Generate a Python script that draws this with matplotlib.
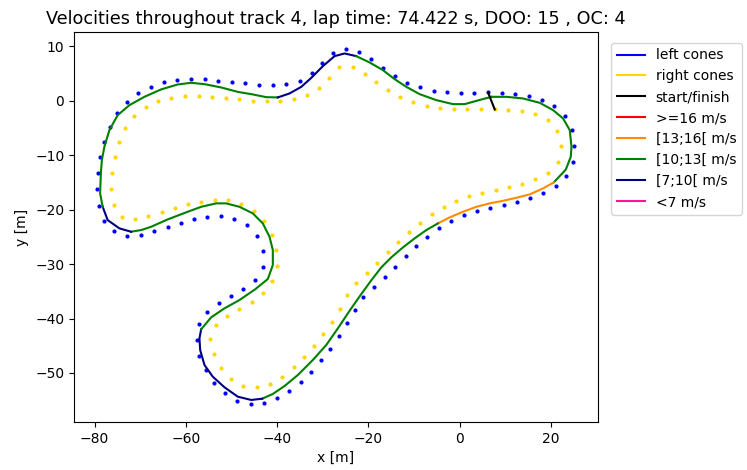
import matplotlib
matplotlib.use("Agg")
from matplotlib import pyplot as plt
from matplotlib.lines import Line2D

# cone positions [m]
left_x = [6.21, 9.21, 12.21, 15.13, 18.05, 20.77, 23.09, 24.63, 25.15, 24.78,
          23.31, 21.05, 18.36, 15.50, 12.57, 9.65, 6.73, 3.79, 0.94, -1.82,
          -4.54, -7.08, -9.50, -11.84, -14.10, -16.45, -18.79, -21.12, -22.87, -24.63,
          -26.38, -28.36, -30.42, -32.52, -34.87, -37.35, -40.07, -42.92, -45.83, -48.75,
          -51.47, -53.73, -55.55, -57.02, -57.61, -57.08, -55.26, -52.70, -50.07, -47.37,
          -44.89, -43.20, -43.20, -44.45, -46.64, -49.34, -52.26, -55.26, -58.18, -61.12,
          -63.97, -66.89, -69.80, -72.81, -75.66, -77.85, -78.95, -79.39, -79.23, -78.73,
          -77.85, -76.60, -75.00, -72.87, -70.39, -67.61, -64.76, -61.84, -58.84, -55.86,
          -52.85, -49.85, -46.93, -43.93, -41.01, -38.00, -35.09, -32.39, -30.20, -27.85,
          -25.00, -22.08, -19.36, -16.82, -14.25, -11.56, -8.71, -5.70, -2.70, 0.22,
          3.22]
left_y = [1.50, 1.43, 1.25, 0.83, 0.15, -1.01, -2.79, -5.36, -8.29, -11.23,
          -13.80, -15.69, -17.03, -17.89, -18.57, -19.12, -19.67, -20.28, -21.06, -22.11,
          -23.45, -24.99, -26.70, -28.53, -30.50, -32.39, -34.22, -36.06, -38.50, -40.88,
          -43.21, -45.54, -47.67, -49.76, -51.60, -53.25, -54.59, -55.45, -55.63, -55.08,
          -53.72, -51.78, -49.45, -46.83, -43.94, -41.06, -38.81, -37.16, -35.82, -34.53,
          -32.88, -30.55, -27.56, -24.92, -22.90, -21.69, -21.19, -21.32, -21.80, -22.48,
          -23.27, -24.00, -24.62, -24.81, -24.00, -22.06, -19.30, -16.29, -13.36, -10.42,
          -7.61, -4.92, -2.35, -0.22, 1.43, 2.53, 3.34, 3.76, 3.89, 3.89,
          3.63, 3.39, 3.16, 2.90, 2.79, 3.03, 3.63, 4.99, 6.88, 8.77,
          9.50, 8.84, 7.56, 6.02, 4.55, 3.27, 2.42, 1.80, 1.56, 1.43,
          1.43]

right_x = [7.68, 10.59, 13.60, 16.51, 19.30, 21.43, 22.21, 21.49, 19.30, 16.60,
           13.75, 10.81, 7.89, 4.98, 2.13, -0.72, -3.51, -6.14, -8.77, -11.12,
           -13.44, -15.79, -18.05, -20.39, -22.81, -24.63, -26.32, -28.07, -29.98, -32.02,
           -34.14, -36.40, -38.88, -41.60, -44.45, -47.37, -50.07, -52.19, -53.79, -54.67,
           -53.44, -50.88, -48.25, -45.61, -43.14, -41.07, -40.13, -40.20, -41.16, -42.83,
           -45.11, -47.81, -50.72, -53.66, -56.64, -59.50, -62.43, -65.29, -68.20, -71.12,
           -74.06, -75.81, -76.32, -76.16, -75.59, -74.56, -73.31, -71.34, -68.79, -66.01,
           -63.16, -60.15, -57.17, -54.23, -51.25, -48.31, -45.33, -42.32, -39.41, -36.40,
           -33.55, -30.92, -28.66, -26.38, -23.46, -20.83, -18.27, -15.64, -13.00, -10.24,
           -7.24, -4.32, -1.32, 1.69, 4.61]
right_y = [-1.61, -1.69, -1.93, -2.48, -3.58, -5.54, -8.35, -11.23, -13.25, -14.46,
           -15.27, -15.87, -16.42, -16.97, -17.58, -18.44, -19.60, -20.88, -22.42, -24.13,
           -25.96, -27.85, -29.76, -31.65, -33.49, -35.74, -38.20, -40.59, -42.84, -45.05,
           -47.06, -48.95, -50.68, -51.96, -52.62, -52.39, -51.05, -49.03, -46.51, -43.76,
           -41.14, -39.54, -38.31, -36.97, -35.27, -33.12, -30.37, -27.38, -24.62, -22.17,
           -20.28, -18.94, -18.31, -18.26, -18.57, -19.05, -19.78, -20.51, -21.25, -21.74,
           -21.43, -19.23, -16.29, -13.36, -10.42, -7.61, -4.99, -2.79, -1.14, -0.09,
           0.51, 0.88, 0.88, 0.70, 0.46, 0.22, -0.04, -0.15, -0.09, 0.22,
           1.01, 2.35, 4.18, 6.15, 6.15, 4.92, 3.39, 1.93, 0.64, -0.33,
           -1.01, -1.38, -1.56, -1.56, -1.56]

# driven path
path_x = [6.95, 10.24, 13.88, 17.54, 20.46, 22.65, 24.12, 24.50, 24.34, 23.25,
          20.61, 18.27, 15.35, 12.43, 9.50, 6.58, 3.66, 0.72, -2.19, -4.76,
          -7.30, -9.87, -12.43, -14.98, -17.17, -19.41, -21.71, -24.01, -26.69, -29.23,
          -32.17, -35.46, -38.38, -40.94, -43.27, -45.68, -48.62, -51.54, -54.10, -55.92,
          -56.86, -57.02, -56.64, -54.45, -51.54, -48.25, -44.74, -42.04, -40.94, -40.94,
          -41.67, -43.14, -45.33, -48.25, -51.16, -53.36, -56.64, -59.58, -63.97, -67.61,
          -69.80, -72.00, -74.56, -77.13, -78.22, -78.79, -78.62, -78.40, -77.85, -76.75,
          -74.93, -72.37, -69.08, -65.42, -61.78, -58.84, -55.92, -52.26, -48.62, -45.33,
          -42.39, -39.85, -37.28, -34.71, -32.52, -29.98, -27.41, -25.22, -22.65, -19.74,
          -16.82, -14.25, -11.69, -8.77, -5.11, -1.47, 1.10, 3.66, 6.95]
path_y = [0.70, 0.70, 0.40, -0.40, -1.74, -3.27, -5.41, -8.48, -10.31, -12.66,
          -15.01, -16.11, -17.21, -17.83, -18.39, -18.86, -19.49, -20.40, -21.43, -22.53,
          -23.76, -25.28, -26.94, -28.77, -30.61, -33.03, -35.69, -38.44, -41.80, -44.86,
          -47.61, -50.37, -52.39, -53.85, -54.72, -54.95, -54.35, -52.62, -50.68, -48.53,
          -45.78, -43.63, -41.98, -39.78, -38.13, -36.61, -34.59, -32.75, -30.18, -27.43,
          -24.99, -22.53, -20.70, -19.49, -18.86, -18.86, -19.49, -20.40, -21.80, -23.16,
          -23.76, -24.07, -23.45, -21.93, -19.49, -17.03, -13.36, -10.92, -8.48, -5.41,
          -2.66, -0.83, 0.70, 2.06, 2.97, 3.27, 3.03, 2.42, 1.61, 1.14,
          0.64, 0.59, 1.32, 2.53, 4.18, 6.33, 8.17, 8.66, 8.17, 7.01,
          5.60, 3.94, 2.53, 1.19, 0.09, -0.64, -0.64, -0.04, 0.70]

# index in path where each velocity band starts
band_start = [0, 10, 19, 34, 42, 61, 64, 81, 88]
band_name = ["[10;13[", "[13;16[", "[10;13[", "[7;10[", "[10;13[",
             "[7;10[", "[10;13[", "[7;10[", "[10;13["]

speed_labels = [">=16", "[13;16[", "[10;13[", "[7;10[", "<7"]
speed_colors = ["red", "darkorange", "green", "navy", "deeppink"]

start_x = [6.21, 7.68]
start_y = [1.50, -1.61]

fig = plt.figure(figsize=(7.47, 4.7), dpi=100)
ax = fig.add_axes([0.0991, 0.1021, 0.7014, 0.8298])

ax.scatter(left_x, left_y, s=9, c="blue", linewidths=0)
ax.scatter(right_x, right_y, s=9, c="gold", linewidths=0)

col = dict(zip(speed_labels, speed_colors))
ends = band_start[1:] + [len(path_x) - 1]
for b0, b1, name in zip(band_start, ends, band_name):
    ax.plot(path_x[b0:b1 + 1], path_y[b0:b1 + 1], c=col[name], lw=1.5)

ax.plot(start_x, start_y, c="black", lw=1.5)

ax.set_xlim(-84.5, 30.3)
ax.set_ylim(-59.0, 12.6)
ax.set_xlabel("x [m]")
ax.set_ylabel("y [m]")
ax.set_title("Velocities throughout track 4, lap time: 74.422 s, DOO: 15 , OC: 4",
             fontsize=12.7)

handles = [Line2D([], [], c="blue"), Line2D([], [], c="gold"), Line2D([], [], c="black")]
labels = ["left cones", "right cones", "start/finish"]
for lab, c in zip(speed_labels, speed_colors):
    handles.append(Line2D([], [], c=c))
    labels.append(lab + " m/s")
ax.legend(handles, labels, loc="upper left", bbox_to_anchor=(1.012, 0.99))

fig.savefig("out.png", dpi=100)
